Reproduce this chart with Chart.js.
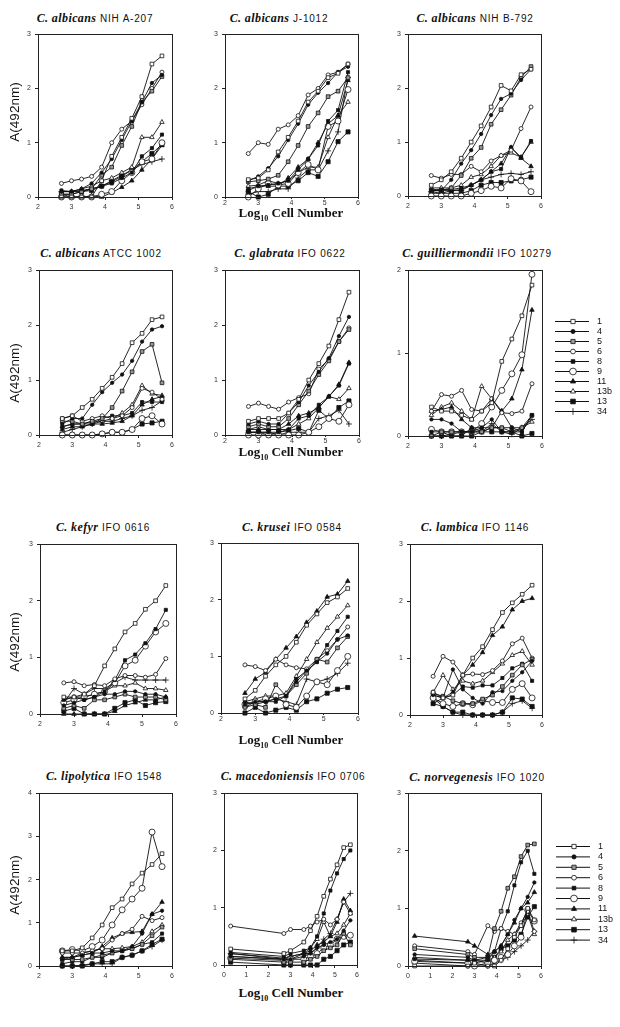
<!DOCTYPE html>
<html>
<head>
<meta charset="utf-8">
<script src="https://cdn.jsdelivr.net/npm/chart.js@4.4.1/dist/chart.umd.min.js"></script>
<style>
  body { margin: 0; background: #fff; width: 620px; height: 1027px; position: relative; overflow: hidden; font-family: "Liberation Sans", Arial, sans-serif; }
  canvas { position: absolute; }
  .title { position: absolute; white-space: nowrap; transform: translate(-50%, -50%); color: #111; font-size: 10px; letter-spacing: 0.8px; }
  .title i { font-family: "Liberation Serif", serif; font-weight: bold; font-size: 12px; letter-spacing: 0.4px; }
  .ytitle { position: absolute; font-size: 13.5px; white-space: nowrap; transform: translate(-50%, -50%) rotate(-90deg); color: #111; }
  .xtitle { position: absolute; font-family: "Liberation Serif", serif; font-weight: bold; font-size: 13px; white-space: nowrap; transform: translate(-50%, -50%); color: #111; }
  .xtitle sub { font-size: 8px; }
</style>
</head>
<body>
<script>
// log10 cell numbers used for most strains, and the wider range of the last two
const logCells = [2.7, 3.0, 3.3, 3.6, 3.9, 4.2, 4.5, 4.8, 5.1, 5.4, 5.7];
const logCellsWide = [0.3, 2.7, 3.0, 3.6, 3.9, 4.2, 4.5, 4.8, 5.1, 5.4, 5.7];
const seriesLabels = ['1', '4', '5', '6', '8', '9', '11', '13b', '13', '34'];
const xTicksNarrow = [2, 3, 4, 5, 6];
const xTicksWide = [0, 1, 2, 3, 4, 5, 6];

// A(492nm), one row per series in seriesLabels order
const albicansA207 = [
  [0, 0, 0, 0, 0.3, 0.75, 1.1, 1.45, 1.85, 2.45, 2.6],
  [0.1, 0.1, 0.15, 0.25, 0.45, 0.7, 1.05, 1.4, 1.75, 2.1, 2.25],
  [0.05, 0.05, 0.1, 0.15, 0.4, 0.55, 0.95, 1.3, 1.75, 1.95, 2.22],
  [0.25, 0.3, 0.33, 0.38, 0.55, 1.0, 1.25, 1.4, 1.7, 2.0, 2.3],
  [0.12, 0.1, 0.12, 0.15, 0.2, 0.25, 0.35, 0.45, 0.75, 0.9, 1.15],
  [0, 0, 0, 0, 0.05, 0.1, 0.3, 0.45, 0.65, 0.7, 1.0],
  [0.05, 0, 0, 0.02, 0, 0.08, 0.18, 0.3, 0.5, 0.7, 0.95],
  [0.1, 0.1, 0.15, 0.2, 0.3, 0.35, 0.45, 0.55, 1.1, 1.1, 1.38],
  [0.05, 0.05, 0.1, 0.12, 0.2, 0.28, 0.38, 0.5, 0.65, 0.8, 0.97],
  [0.1, 0.1, 0.1, 0.15, 0.2, 0.3, 0.4, 0.5, 0.6, 0.65, 0.7]
];
const albicansJ1012 = [
  [0.32, 0.35, 0.5, 0.83, 1.1, 1.4, 1.75, 1.95, 2.2, 2.28, 2.45],
  [0.3, 0.38, 0.53, 0.75, 1.05, 1.35, 1.7, 1.92, 2.1, 2.3, 2.4],
  [0.28, 0.3, 0.33, 0.4, 0.65, 0.95, 1.3, 1.55, 1.85, 1.95, 2.2],
  [0.8, 1.0, 0.97, 1.25, 1.33, 1.5, 1.88, 2.0, 2.25, 2.3, 2.45],
  [0.15, 0.2, 0.22, 0.25, 0.3, 0.5, 0.7, 0.95, 1.4, 1.6, 2.3],
  [0, 0.15, 0.25, 0.22, 0.25, 0.45, 0.6, 0.5, 1.3, 1.4, 1.98],
  [0.12, 0.2, 0.2, 0.2, 0.35, 0.55, 0.7, 1.0, 1.35, 1.5, 2.15],
  [0.2, 0.22, 0.3, 0.25, 0.3, 0.45, 0.55, 0.55, 1.1, 1.5, 1.75],
  [0.1, 0, 0.05, 0.2, 0.2, 0.3, 0.45, 0.38, 0.65, 1.02, 1.2],
  [0.05, 0.1, 0.1, 0.15, 0.15, 0.35, 0.5, 0.5, 0.85, 1.2, 2.2]
];
const albicansB792 = [
  [0.2, 0.3, 0.45, 0.7, 1.0, 1.3, 1.65, 2.05, 1.95, 2.25, 2.35],
  [0.1, 0.1, 0.3, 0.6, 0.85, 1.15, 1.5, 1.8, 1.9, 2.15, 2.35],
  [0.1, 0.1, 0.15, 0.38, 0.7, 0.9, 1.33, 1.6, 1.87, 2.2, 2.4],
  [0.38, 0.33, 0.4, 0.4, 0.55, 0.45, 0.65, 0.75, 0.85, 1.25, 1.65],
  [0.12, 0.12, 0.12, 0.15, 0.2, 0.3, 0.45, 0.5, 0.9, 0.72, 1.02],
  [0, 0, 0, 0, 0.05, 0.1, 0.18, 0.15, 0.32, 0.28, 0.08],
  [0.1, 0.1, 0.1, 0.12, 0.2, 0.3, 0.45, 0.6, 0.9, 0.7, 0.55],
  [0.15, 0.15, 0.15, 0.2, 0.35, 0.4, 0.55, 0.75, 0.8, 0.72, 1.0],
  [0.05, 0.05, 0.05, 0.05, 0.1, 0.2, 0.25, 0.25, 0.28, 0.3, 0.35],
  [0.08, 0.05, 0.1, 0.1, 0.2, 0.3, 0.35, 0.4, 0.42, 0.4, 0.45]
];
const albicansATCC = [
  [0.3, 0.35, 0.5, 0.65, 0.85, 1.05, 1.3, 1.68, 1.85, 2.1, 2.15],
  [0.2, 0.3, 0.3, 0.55, 0.78, 0.95, 1.1, 1.35, 1.7, 1.92, 1.98],
  [0.25, 0.25, 0.2, 0.25, 0.3, 0.5, 0.8, 1.15, 1.52, 1.65, 0.95],
  [0.3, 0.35, 0.25, 0.3, 0.35, 0.3, 0.35, 0.5, 0.85, 0.78, 0.65],
  [0.15, 0.2, 0.2, 0.2, 0.3, 0.35, 0.35, 0.4, 0.6, 0.6, 0.6],
  [0, 0, 0, 0, 0.02, 0.05, 0.05, 0.1, 0.3, 0.35, 0.2],
  [0.1, 0.15, 0.15, 0.2, 0.2, 0.22, 0.25, 0.35, 0.55, 0.65, 0.7],
  [0.15, 0.2, 0.2, 0.25, 0.25, 0.3, 0.4, 0.55, 0.9, 0.75, 0.72],
  [0, 0, 0, 0, 0.02, 0.05, 0.05, 0.1, 0.2, 0.22, 0.25],
  [0.05, 0.1, 0.15, 0.2, 0.25, 0.25, 0.3, 0.35, 0.45, 0.5, 0.62]
];
const glabrata = [
  [0.25, 0.3, 0.3, 0.3, 0.4, 0.65, 1.0, 1.3, 1.62, 2.1, 2.6],
  [0.2, 0.25, 0.2, 0.2, 0.4, 0.6, 0.9, 1.15, 1.4, 1.8, 2.15],
  [0.15, 0.2, 0.15, 0.15, 0.3, 0.55, 0.8, 1.1, 1.35, 1.7, 1.92],
  [0.52, 0.58, 0.52, 0.47, 0.6, 0.68, 0.75, 1.2, 1.38, 1.7, 1.95],
  [0.05, 0.05, 0.05, 0.05, 0.1, 0.3, 0.35, 0.55, 0.7, 0.9, 1.3],
  [0, 0, 0, 0, 0, 0, 0.05, 0.15, 0.3, 0.25, 0.55],
  [0.1, 0.1, 0.1, 0.1, 0.2, 0.35, 0.4, 0.5, 0.7, 0.92, 1.32],
  [0.1, 0.15, 0.1, 0.1, 0.1, 0.2, 0.3, 0.5, 0.7, 0.65, 0.85],
  [0.05, 0.05, 0, 0.05, 0.08, 0.12, 0.05, 0.45, 0.3, 0.5, 0.62],
  [0.05, 0.05, 0.05, 0, 0.05, 0.05, 0.05, 0.3, 0.35, 0.45, 0.2]
];
const guilliermondii = [
  [0.35, 0.3, 0.3, 0.25, 0.2, 0.3, 0.4, 0.9, 1.17, 1.45, 1.82],
  [0.2, 0.2, 0.15, 0.05, 0.05, 0.1, 0.2, 0.05, 0.05, 0.05, 0.25],
  [0, 0.05, 0.05, 0.05, 0.05, 0.05, 0.1, 0.1, 0.05, 0.1, 0.25],
  [0.3, 0.5, 0.48, 0.55, 0.32, 0.3, 0.45, 0.28, 0.27, 0.3, 0.63],
  [0.05, 0.05, 0, 0, 0.1, 0.1, 0.1, 0.1, 0.1, 0.05, 0.25],
  [0.08, 0.05, 0.05, 0.05, 0.05, 0.15, 0.35, 0.55, 0.75, 0.98, 1.95],
  [0.3, 0.32, 0.35, 0.2, 0.1, 0.05, 0.1, 0.3, 0.45, 0.8, 1.52],
  [0.25, 0.35, 0.4, 0.3, 0.2, 0.6, 0.45, 0.3, 0.1, 0.1, 0.17],
  [0, 0, 0, 0, 0, 0.05, 0.05, 0.05, 0.05, 0, 0.03],
  [0, 0, 0.02, 0.05, 0.05, 0.05, 0.15, 0.05, 0.02, 0.1, 0.2]
];
const kefyr = [
  [0.3, 0.3, 0.35, 0.5, 0.85, 1.15, 1.45, 1.6, 1.85, 2.0, 2.27],
  [0.15, 0.2, 0.25, 0.3, 0.35, 0.35, 0.4, 0.4, 0.35, 0.35, 0.3],
  [0.1, 0.15, 0.1, 0.25, 0.25, 0.3, 0.35, 0.3, 0.3, 0.3, 0.25],
  [0.55, 0.57, 0.5, 0.52, 0.5, 0.62, 0.68, 0.68, 0.65, 0.7, 0.98],
  [0.25, 0.3, 0.25, 0.3, 0.4, 0.6, 0.95, 1.05, 1.25, 1.5, 1.84],
  [0.2, 0.25, 0.3, 0.35, 0.4, 0.55, 0.85, 0.95, 1.2, 1.45, 1.6],
  [0, 0, 0, 0, 0, 0.05, 0.15, 0.2, 0.25, 0.25, 0.3],
  [0.25, 0.3, 0.3, 0.35, 0.4, 0.5, 0.5, 0.55, 0.45, 0.45, 0.42],
  [0.05, 0.1, 0, 0, 0, 0.1, 0.2, 0.25, 0.15, 0.2, 0.22],
  [0.2, 0.45, 0.35, 0.45, 0.45, 0.55, 0.65, 0.6, 0.6, 0.6, 0.6]
];
const krusei = [
  [0.25, 0.4, 0.65, 0.85, 1.0, 1.25, 1.55, 1.75, 1.95, 2.05, 2.2],
  [0.15, 0.2, 0.2, 0.25, 0.3, 0.55, 0.75, 0.9, 1.05, 1.3, 1.37],
  [0.1, 0.15, 0.1, 0.5, 0.3, 0.5, 0.7, 0.95, 0.9, 1.15, 1.35],
  [0.85, 0.82, 0.75, 0.95, 0.85, 0.8, 0.78, 0.95, 1.1, 1.3, 1.52],
  [0.2, 0.15, 0.2, 0.2, 0.3, 0.6, 0.75, 0.9, 1.2, 1.45, 1.7],
  [0.15, 0.2, 0.25, 0.3, 0.15, 0.1, 0.3, 0.55, 0.5, 0.75, 1.0],
  [0.35, 0.6, 0.72, 0.95, 1.15, 1.35, 1.6, 1.8, 2.05, 2.1, 2.33],
  [0.2, 0.25, 0.3, 0.3, 0.35, 0.65, 0.95, 1.25, 1.5, 1.7, 1.9],
  [0, 0.1, 0, 0.05, 0.1, 0.05, 0.2, 0.25, 0.35, 0.42, 0.45],
  [0.1, 0.2, 0.2, 0.25, 0.2, 0.15, 0.6, 0.55, 0.6, 0.7, 0.88]
];
const lambica = [
  [0.4, 0.3, 0.35, 0.7, 1.0, 1.2, 1.5, 1.8, 1.97, 2.12, 2.28],
  [0.35, 0.3, 0.8, 0.45, 0.3, 0.2, 0.4, 0.42, 0.6, 0.75, 0.95],
  [0.38, 0.33, 0.25, 0.2, 0.2, 0.28, 0.35, 0.5, 0.7, 0.88, 0.98],
  [0.68, 1.03, 0.93, 0.7, 0.72, 0.71, 0.78, 0.95, 1.25, 1.35, 1.0],
  [0.2, 0.3, 0.35, 0.5, 0.48, 0.52, 0.52, 0.65, 0.82, 0.9, 0.6],
  [0.3, 0.2, 0.15, 0.2, 0.18, 0.25, 0.22, 0.22, 0.45, 0.55, 0.3],
  [0.35, 0.3, 0.4, 0.7, 0.88, 1.1, 1.4, 1.55, 1.85, 2.0, 2.05],
  [0.4, 0.7, 0.45, 0.6, 0.55, 0.6, 0.75, 0.9, 1.05, 1.12, 0.88],
  [0.2, 0.15, 0.05, 0.05, 0, 0, 0, 0.05, 0.3, 0.28, 0.15],
  [0.3, 0.15, 0.05, 0, 0, 0, 0, 0.05, 0.2, 0.25, 0.12]
];
const lipolytica = [
  [0.35, 0.35, 0.42, 0.65, 0.95, 1.35, 1.55, 1.9, 2.15, 2.35, 2.6],
  [0.15, 0.2, 0.25, 0.3, 0.3, 0.35, 0.35, 0.45, 0.75, 1.2, 1.28],
  [0.15, 0.15, 0.15, 0.2, 0.25, 0.3, 0.35, 0.4, 0.5, 0.7, 0.9],
  [0.3, 0.3, 0.3, 0.35, 0.4, 0.6, 0.75, 0.85, 1.15, 1.05, 1.12],
  [0.05, 0.1, 0.1, 0.2, 0.2, 0.3, 0.35, 0.4, 0.5, 0.55, 0.75],
  [0.35, 0.38, 0.35, 0.45, 0.6, 0.95, 1.3, 1.55, 1.8, 3.1, 2.3],
  [0.2, 0.2, 0.25, 0.3, 0.45, 0.65, 0.75, 0.78, 0.8, 1.2, 1.48],
  [0.2, 0.2, 0.3, 0.35, 0.4, 0.4, 0.42, 0.45, 0.55, 0.8, 0.95],
  [0, 0, 0, 0.05, 0.1, 0.1, 0.2, 0.25, 0.35, 0.5, 0.62],
  [0, 0, 0.02, 0.05, 0.05, 0.05, 0.2, 0.25, 0.35, 0.45, 0.6]
];
const macedoniensis = [
  [0.28, 0.2, 0.25, 0.4, 0.6, 0.85, 1.2, 1.5, 1.75, 2.05, 2.1],
  [0.15, 0.1, 0.1, 0.15, 0.2, 0.3, 0.35, 0.4, 0.45, 0.6, 0.78],
  [0.1, 0.05, 0.05, 0.05, 0.1, 0.15, 0.25, 0.3, 0.35, 0.55, 0.35],
  [0.68, 0.55, 0.62, 0.62, 0.68, 0.75, 0.8, 0.7, 0.8, 1.1, 0.9],
  [0.22, 0.15, 0.2, 0.25, 0.3, 0.5, 0.9, 1.3, 1.6, 1.85, 2.0],
  [0.12, 0.08, 0.1, 0.1, 0.15, 0.2, 0.3, 0.35, 0.45, 0.5, 0.52],
  [0.2, 0.12, 0.15, 0.2, 0.25, 0.35, 0.4, 0.5, 0.75, 1.15, 0.95],
  [0.15, 0.1, 0.1, 0.2, 0.3, 0.45, 0.75, 0.5, 0.55, 0.7, 0.9],
  [0.05, 0, 0, 0, 0, 0, 0.1, 0.15, 0.25, 0.35, 0.4],
  [0.2, 0.1, 0.15, 0.2, 0.2, 0.3, 0.45, 0.55, 0.8, 1.1, 1.25]
];
const norvegenesis = [
  [0, 0, 0.05, 0, 0, 0.1, 0.3, 0.5, 0.7, 1.0, 0.8],
  [0.2, 0.15, 0.1, 0.15, 0.25, 0.35, 0.55, 0.8, 1.0, 1.2, 1.45],
  [0.3, 0.2, 0.15, 0.15, 0.65, 0.95, 1.35, 1.55, 1.9, 2.1, 2.12],
  [0.35, 0.25, 0.2, 0.7, 0.6, 0.65, 0.6, 0.55, 0.75, 0.95, 0.6],
  [0.12, 0.1, 0.1, 0.1, 0.25, 0.65, 0.95, 1.4, 1.8, 2.0, 1.6],
  [0.08, 0.05, 0, 0.05, 0.1, 0.15, 0.2, 0.35, 0.5, 0.97, 0.78],
  [0.52, 0.42, 0.35, 0.2, 0.25, 0.35, 0.55, 0.75, 1.0, 1.1, 1.28],
  [0.15, 0.1, 0.1, 0.05, 0.15, 0.25, 0.45, 0.55, 0.7, 0.9, 0.55],
  [0.1, 0.05, 0.05, 0.1, 0.15, 0.3, 0.35, 0.45, 0.55, 0.85, 1.03],
  [0.05, 0, 0, 0, 0.05, 0.1, 0.15, 0.25, 0.35, 0.45, 0.6]
];

// marker per series, same order as seriesLabels
const markers = [
  { pointStyle: 'rect', pointRadius: 2.6, pointBackgroundColor: '#fff' },
  { pointStyle: 'circle', pointRadius: 1.7, pointBackgroundColor: '#111' },
  { pointStyle: 'rect', pointRadius: 2.6, pointBackgroundColor: '#999' },
  { pointStyle: 'circle', pointRadius: 2, pointBackgroundColor: '#fff' },
  { pointStyle: 'rect', pointRadius: 2.2, pointBackgroundColor: '#111' },
  { pointStyle: 'circle', pointRadius: 3, pointBackgroundColor: '#fff' },
  { pointStyle: 'triangle', pointRadius: 2.6, pointBackgroundColor: '#111' },
  { pointStyle: 'triangle', pointRadius: 2.6, pointBackgroundColor: '#fff' },
  { pointStyle: 'rect', pointRadius: 2.9, pointBackgroundColor: '#111' },
  { pointStyle: 'cross', pointRadius: 3, pointBackgroundColor: '#111' }
];

// tight: x tick labels sit close to the axis (middle column, above the x title)
const panels = [
  { sp: 'C. albicans', strain: 'NIH A-207', data: albicansA207, xs: logCells, ticks: xTicksNarrow, ymax: 3, box: [38, 34, 172, 197], tx: 95, ty: 18 },
  { sp: 'C. albicans', strain: 'J-1012', data: albicansJ1012, xs: logCells, ticks: xTicksNarrow, ymax: 3, box: [225, 34, 358, 197], tx: 279, ty: 18, tight: true },
  { sp: 'C. albicans', strain: 'NIH B-792', data: albicansB792, xs: logCells, ticks: xTicksNarrow, ymax: 3, box: [408, 34, 541, 196], tx: 475, ty: 18 },
  { sp: 'C. albicans', strain: 'ATCC 1002', data: albicansATCC, xs: logCells, ticks: xTicksNarrow, ymax: 3, box: [39, 270, 172, 435], tx: 101, ty: 253 },
  { sp: 'C. glabrata', strain: 'IFO 0622', data: glabrata, xs: logCells, ticks: xTicksNarrow, ymax: 3, box: [225, 270, 359, 435], tx: 290, ty: 253, tight: true },
  { sp: 'C. guilliermondii', strain: 'IFO 10279', data: guilliermondii, xs: logCells, ticks: xTicksNarrow, ymax: 2, box: [408, 270, 542, 436], tx: 477, ty: 253 },
  { sp: 'C. kefyr', strain: 'IFO 0616', data: kefyr, xs: logCells, ticks: xTicksNarrow, ymax: 3, box: [40, 544, 176, 714], tx: 103, ty: 527 },
  { sp: 'C. krusei', strain: 'IFO 0584', data: krusei, xs: logCells, ticks: xTicksNarrow, ymax: 3, box: [221, 543, 358, 713], tx: 292, ty: 527, tight: true },
  { sp: 'C. lambica', strain: 'IFO 1146', data: lambica, xs: logCells, ticks: xTicksNarrow, ymax: 3, box: [410, 544, 542, 715], tx: 475, ty: 527 },
  { sp: 'C. lipolytica', strain: 'IFO 1548', data: lipolytica, xs: logCells, ticks: xTicksNarrow, ymax: 4, box: [39, 793, 172, 966], tx: 104, ty: 776 },
  { sp: 'C. macedoniensis', strain: 'IFO 0706', data: macedoniensis, xs: logCellsWide, ticks: xTicksWide, ymax: 3, box: [224, 793, 357, 965], tx: 293, ty: 776 },
  { sp: 'C. norvegenesis', strain: 'IFO 1020', data: norvegenesis, xs: logCellsWide, ticks: xTicksWide, ymax: 3, box: [408, 793, 541, 966], tx: 477, ty: 777 }
];

const frameBox = {
  id: 'frameBox',
  afterDraw(chart) {
    const a = chart.chartArea, ctx = chart.ctx;
    ctx.save();
    ctx.strokeStyle = '#222';
    ctx.lineWidth = 1;
    ctx.strokeRect(Math.round(a.left) + 0.5, Math.round(a.top) + 0.5, Math.round(a.right - a.left), Math.round(a.bottom - a.top));
    ctx.restore();
  }
};

function addText(cls, html, x, y) {
  const d = document.createElement('div');
  d.className = cls;
  d.innerHTML = html;
  d.style.left = x + 'px';
  d.style.top = y + 'px';
  document.body.appendChild(d);
}

panels.forEach(p => {
  const [l, t, r, b] = p.box;
  const W = r - l + 36, H = b - t + 28;
  const c = document.createElement('canvas');
  c.width = W; c.height = H;
  c.style.left = (l - 30) + 'px';
  c.style.top = (t - 8) + 'px';
  c.style.width = W + 'px';
  c.style.height = H + 'px';
  document.body.appendChild(c);

  new Chart(c, {
    type: 'line',
    data: {
      datasets: p.data.map((ys, i) => Object.assign({
        label: seriesLabels[i],
        data: ys.map((y, j) => ({ x: p.xs[j], y: y })),
        borderColor: '#111',
        pointBorderColor: '#111',
        borderWidth: 0.9,
        pointBorderWidth: 0.8,
        tension: 0,
        clip: false
      }, markers[i]))
    },
    options: {
      responsive: false,
      animation: false,
      layout: { padding: { top: 8, right: 6, left: 0, bottom: 0 } },
      plugins: { legend: { display: false }, tooltip: { enabled: false } },
      scales: {
        x: {
          type: 'linear',
          min: p.ticks[0], max: p.ticks[p.ticks.length - 1],
          ticks: { stepSize: 1, font: { size: 7 }, color: '#333', padding: p.tight ? 0 : 3, maxRotation: 0 },
          grid: { drawOnChartArea: false, tickLength: p.tight ? 2 : 3, color: '#222' },
          border: { color: '#222' },
          afterFit(s) { s.height = 20; }
        },
        y: {
          min: 0, max: p.ymax,
          ticks: { stepSize: 1, font: { size: 7 }, color: '#333', padding: 4 },
          grid: { drawOnChartArea: false, tickLength: 3, color: '#222' },
          border: { color: '#222' },
          afterFit(s) { s.width = 30; }
        }
      }
    },
    plugins: [frameBox]
  });

  addText('title', '<i>' + p.sp + '</i> ' + p.strain, p.tx, p.ty);
});

// axis titles
[112, 373, 642, 885].forEach(y => addText('ytitle', 'A(492nm)', 14, y));
[214, 453, 741, 994].forEach(y => addText('xtitle', 'Log<sub>10</sub> Cell Number', 291, y));

// legends beside the right column
function drawLegend(left, top, gap) {
  const W = 64, H = gap * 10 + 6;
  const c = document.createElement('canvas');
  c.width = W; c.height = H;
  c.style.left = left + 'px';
  c.style.top = top + 'px';
  document.body.appendChild(c);
  const ctx = c.getContext('2d');
  ctx.font = '9px "Liberation Sans", Arial, sans-serif';
  ctx.textBaseline = 'middle';
  seriesLabels.forEach((lab, i) => {
    const y = 3.5 + i * gap;
    ctx.strokeStyle = '#111';
    ctx.lineWidth = 1;
    ctx.beginPath(); ctx.moveTo(0, y); ctx.lineTo(34, y); ctx.stroke();
    const m = markers[i];
    ctx.fillStyle = m.pointBackgroundColor;
    ctx.lineWidth = 0.8;
    Chart.helpers.drawPoint(ctx, { pointStyle: m.pointStyle, radius: m.pointRadius + 0.4, borderWidth: 0.8, rotation: 0 }, 18, y);
    ctx.fillStyle = '#111';
    ctx.fillText(lab, 42, y);
  });
}
drawLegend(555, 318, 10);
drawLegend(556, 843, 10.4);
</script>
</body>
</html>
